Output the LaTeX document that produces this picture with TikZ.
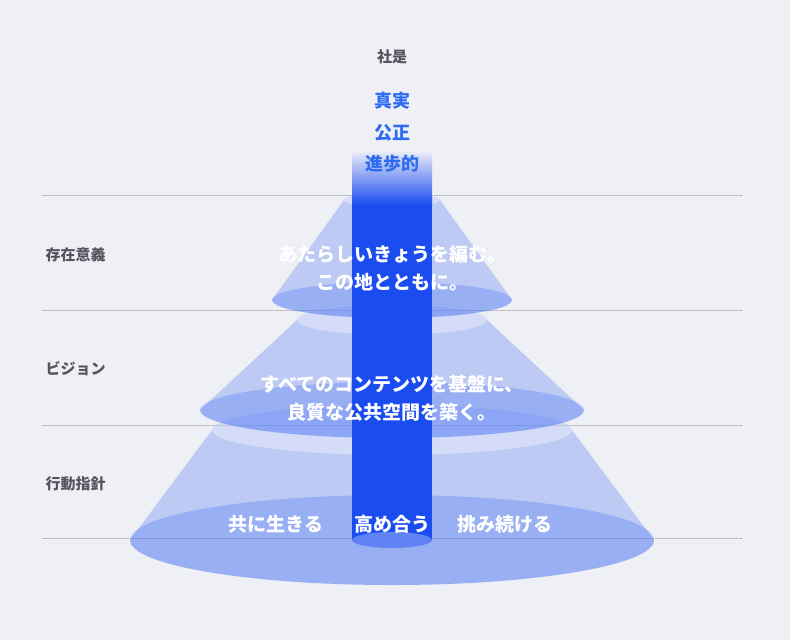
\documentclass[tikz,border=0pt]{standalone}
\usepackage{fontspec}
\newfontfamily\jp{Noto Sans CJK JP}
\definecolor{bgcol}{HTML}{EFF0F6}
\definecolor{pillar}{HTML}{1A4CF0}
\definecolor{conecol}{HTML}{3F6BF2}
\definecolor{tagcol}{HTML}{555560}
\definecolor{mottocol}{HTML}{2F6BF0}
\usetikzlibrary{positioning}

\tikzset{
  tag/.style={anchor=west, font=\jp\fontsize{15}{15}\selectfont\bfseries, text=tagcol},
  motto/.style={font=\jp\fontsize{18}{18}\selectfont\bfseries, text=mottocol},
  creed/.style={align=center, font=\jp\fontsize{19}{28}\selectfont\bfseries, text=white},
  rule/.style={densely dotted, draw=black!35, line width=0.6pt},
  tier/.style={fill=conecol, fill opacity=0.28, draw=none},
  rim/.style={fill=white, fill opacity=0.35, draw=none}
}

\begin{document}
\begin{tikzpicture}[x=1pt, y=-1pt]
  \fill[bgcol] (0,0) rectangle (790,640);
  \useasboundingbox (0,0) rectangle (790,640);

  % dotted separators
  \foreach \yy in {195,310,425,538}
    \draw[rule] (42,\yy) -- (742,\yy);

  % cone tiers, bottom first
  \foreach \cy/\crx/\cry/\by/\brx/\bry in {430/180/25/540/262/45, 320/95/15/410/192/28, 200/48/8/300/120/18}{
    \fill[tier] (392-\crx,\cy) -- (392-\brx,\by)
      arc[start angle=180, end angle=360, x radius=\brx, y radius=-\bry]
      -- (392+\crx,\cy)
      arc[start angle=0, end angle=180, x radius=\crx, y radius=-\cry] -- cycle;
    \fill[tier] (392,\by) ellipse[x radius=\brx, y radius=\bry];
    \fill[rim] (392,\cy) ellipse[x radius=\crx, y radius=\cry];
  }

  % central pillar
  \fill[pillar] (352,205) rectangle (432,540);
  \shade[top color=bgcol, bottom color=pillar] (352,150) rectangle (432,205);
  \fill[pillar!70!white] (392,540) ellipse[x radius=40, y radius=8];

  % labels
  \node (shaze) at (392,57) [font=\jp\fontsize{15}{15}\selectfont\bfseries, text=tagcol] {社是};
  \node (shinjitsu) at (392,101) [motto] {真実};
  \node (kosei) at (392,133) [motto] {公正};
  \node (shinpo) at (392,164) [motto] {進歩的};

  \node (sonzai) at (42,255) [tag] {存在意義};
  \node (vision) at (42,369) [tag] {ビジョン};
  \node (kodo) at (42,484) [tag] {行動指針};

  \node (purpose) at (392,268) [creed] {あたらしいきょうを編む。\\この地とともに。};
  \node (visiontext) at (392,398) [creed] {すべてのコンテンツを基盤に、\\良質な公共空間を築く。};
  \node (kyosei) at (276,524) [creed] {共に生きる};
  \node (takame) at (392,524) [creed] {高め合う};
  \node (idomi) at (505,524) [creed] {挑み続ける};
\end{tikzpicture}
\end{document}
